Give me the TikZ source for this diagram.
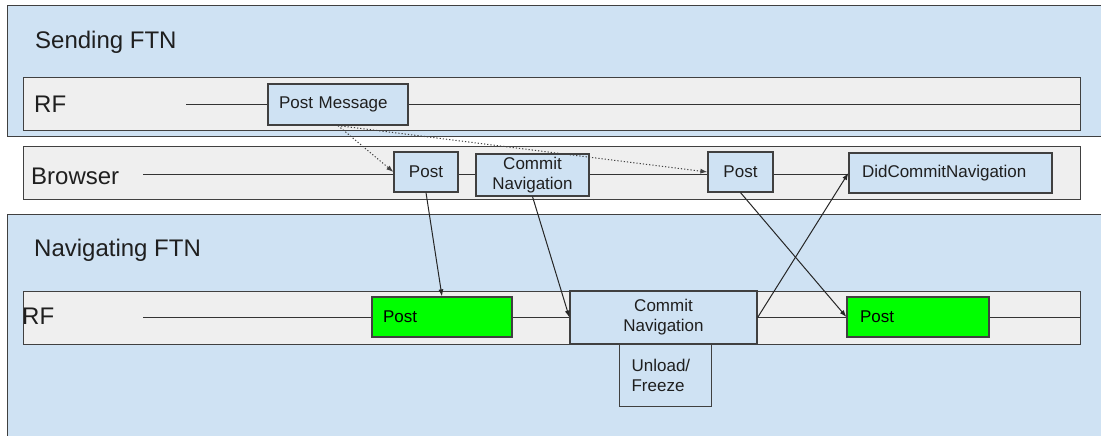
\documentclass[tikz,border=0pt]{standalone}
\usepackage{fontspec}
\setmainfont{Liberation Sans}
\usetikzlibrary{arrows.meta}
\definecolor{ftnblue}{HTML}{CFE2F3}
\definecolor{lanegray}{HTML}{EFEFEF}
\definecolor{postgreen}{HTML}{00FF00}
\definecolor{edgegray}{HTML}{404040}
\definecolor{inkcol}{HTML}{1F1F1F}
\begin{document}
\begin{tikzpicture}[x=1pt,y=-1pt,
  container/.style={draw=edgegray, line width=1.2pt, fill=ftnblue, inner sep=0pt, anchor=north west},
  lane/.style={draw=edgegray, line width=1.2pt, fill=lanegray, inner sep=0pt, anchor=north west},
  title/.style={font=\fontsize{24}{28}\selectfont, text=inkcol, anchor=base west, inner sep=0pt},
  msgc/.style={draw=edgegray, line width=1.2pt, fill=ftnblue, inner sep=0pt, align=center, text=inkcol,
    font=\fontsize{17}{20}\selectfont},
  msgl/.style={draw=edgegray, line width=1.2pt, fill=ftnblue, inner ysep=0pt, align=left, text=inkcol,
    font=\fontsize{17}{20}\selectfont},
  greenbox/.style={msgl, fill=postgreen, text=black},
  flow/.style={draw=black!85, line width=1pt, -{Latex[length=7pt,width=5pt]}},
  dotflow/.style={flow, draw=black!75, dash pattern=on 1.2pt off 2pt},
  laneline/.style={draw=black!80, line width=1pt}
]
\useasboundingbox (0,0) rectangle (1101,436);
\clip (0,0) rectangle (1101,436);
\fill[white] (0,0) rectangle (1101,436);

% containers
\node[container, minimum width=1100, minimum height=131] (sending) at (7,5) {};
\node[container, minimum width=1100, minimum height=230] (navigating) at (7,214) {};

% lanes
\node[lane, minimum width=1057, minimum height=53] (srf) at (23,77) {};
\node[lane, minimum width=1057, minimum height=53] (browser) at (23,146) {};
\node[lane, minimum width=1057, minimum height=53] (nrf) at (23,291) {};

% titles
\node[title] (tsend) at (35,49) {Sending FTN};
\node[title] (tsrf) at (34,112) {RF};
\node[title] (tbrow) at (31,184) {Browser};
\node[title] (tnav) at (34,256) {Navigating FTN};
\node[title] (tnrf) at (22,324) {RF};

% sending RF boxes
\node[msgl, text width=118, inner xsep=11, minimum height=41] (pm) at (338,104.5) {Post Message};

% browser boxes
\node[msgc, minimum width=64, minimum height=40] (bpost1) at (426,172) {Post};
\node[msgc, minimum width=113, minimum height=42] (bcommit) at (532.5,175) {Commit\\Navigation};
\node[msgc, minimum width=65, minimum height=40] (bpost2) at (740.5,172) {Post};
\node[msgl, text width=177, inner xsep=13, minimum height=40] (dcn) at (950.5,173) {DidCommitNavigation};

% navigating RF boxes
\node[greenbox, text width=118, inner xsep=11, minimum height=40] (gpost1) at (442,317) {Post};
\node[msgc, minimum width=187, minimum height=53] (ncommit) at (663.5,317.5) {Commit\\Navigation};
\node[greenbox, text width=116, inner xsep=13, minimum height=40] (gpost2) at (918,317) {Post};
\node[msgl, text width=68, inner xsep=12, minimum height=62, anchor=north west] (unload) at (619,344) {Unload/\\Freeze};

% lane line start / end points
\coordinate (srfstart) at (186,104);
\coordinate (srfend) at (1080,104);
\coordinate (bstart) at (143,174);
\coordinate (nstart) at (143,317);
\coordinate (nend) at (1080,317);

% lane lines
\draw[laneline] (srfstart) -- (srfstart -| pm.west);
\draw[laneline] (srfstart -| pm.east) -- (srfend);
\draw[laneline] (bstart) -- (bstart -| bpost1.west);
\draw[laneline] (bstart -| bpost1.east) -- (bstart -| bcommit.west);
\draw[laneline] (bstart -| bcommit.east) -- (bstart -| bpost2.west);
\draw[laneline] (bstart -| bpost2.east) -- (bstart -| dcn.west);
\draw[laneline] (nstart) -- (nstart -| gpost1.west);
\draw[laneline] (nstart -| gpost1.east) -- (nstart -| ncommit.west);
\draw[laneline] (nstart -| ncommit.east) -- (nstart -| gpost2.west);
\draw[laneline] (nstart -| gpost2.east) -- (nend);

% dotted message arrows
\draw[dotflow] (pm.south) -- (bpost1.west);
\draw[dotflow] (pm.south) -- (bpost2.west);

% solid arrows
\draw[flow] (bpost1.south) -- (gpost1.north);
\draw[flow] (bcommit.south) -- (ncommit.west);
\draw[flow] (bpost2.south) -- (gpost2.west);
\draw[flow] (ncommit.east) -- (dcn.west);
\end{tikzpicture}
\end{document}
